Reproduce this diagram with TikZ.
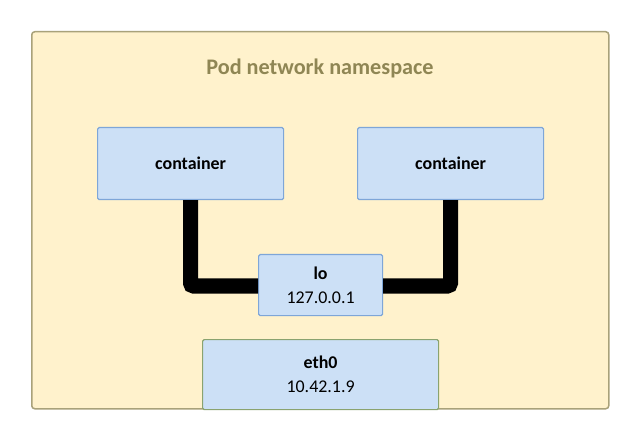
\documentclass[tikz,border=0pt]{standalone}
\usepackage{fontspec}
\setmainfont{Carlito}
\definecolor{nsfill}{HTML}{FFF2CC}
\definecolor{nsdraw}{HTML}{A9A27A}
\definecolor{nstext}{HTML}{8F8654}
\definecolor{boxfill}{HTML}{CCE0F6}
\definecolor{boxdraw}{HTML}{7EA6D8}
\definecolor{ethdraw}{HTML}{8AA36F}
\begin{document}
\begin{tikzpicture}[x=1bp,y=-1bp,
  ns/.style={draw=nsdraw,fill=nsfill,line width=1.5bp,rounded corners=3bp},
  boxnode/.style={draw=boxdraw,fill=boxfill,line width=1.2bp,rounded corners=1.5bp,inner sep=0pt,align=center,font=\fontsize{18}{24}\selectfont},
  link/.style={line width=15bp,black,rounded corners=3bp}
]
\useasboundingbox (0,0) rectangle (641,441);
\node[ns,minimum width=577bp,minimum height=377bp,anchor=north west] (pod) at (31,31) {};
\node[font=\fontsize{22.3}{24}\selectfont\bfseries,text=nstext] (title) at (320,68) {Pod network namespace};
\node[boxnode,minimum width=186bp,minimum height=72bp,anchor=north west] (c1) at (97,127) {\bfseries container};
\node[boxnode,minimum width=186bp,minimum height=72bp,anchor=north west] (c2) at (357,127) {\bfseries container};
\node[boxnode,minimum width=124bp,minimum height=61bp,anchor=north west] (lo) at (258,254) {{\bfseries lo}\\127.0.0.1};
\node[boxnode,draw=ethdraw,minimum width=236bp,minimum height=70bp,anchor=north west] (eth) at (202,339) {{\bfseries eth0}\\10.42.1.9};
\draw[link] (c1.south -| 190.5,0) |- (lo.west |- 0,286);
\draw[link] (c2.south -| 450.5,0) |- (lo.east |- 0,286);
\end{tikzpicture}
\end{document}
